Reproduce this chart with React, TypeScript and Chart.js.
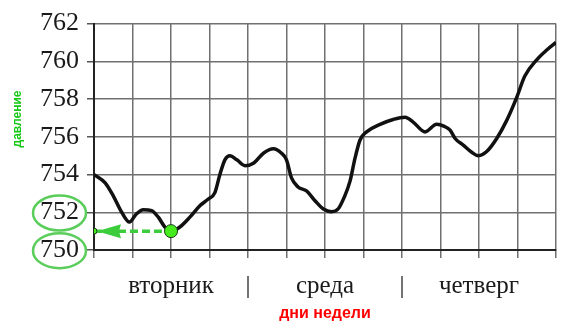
import React, { useEffect, useRef } from 'react';
import { Chart, registerables } from 'chart.js';

Chart.register(...registerables);

// Pressure curve (x in grid columns, y in mm Hg)
const curveX = [0, 0.29, 0.5, 0.72, 0.92, 1.1, 1.28, 1.5, 1.67, 1.84, 2.0, 2.23, 2.49, 2.75, 2.97, 3.14, 3.27, 3.4, 3.53, 3.71, 3.92, 4.14, 4.4, 4.66, 4.87, 5.0, 5.13, 5.3, 5.52, 5.74, 5.96, 6.17, 6.35, 6.5, 6.65, 6.78, 6.91, 7.08, 7.43, 7.77, 8.08, 8.29, 8.6, 8.9, 9.1, 9.25, 9.38, 9.59, 9.81, 9.98, 10.2, 10.46, 10.72, 10.98, 11.19, 11.5, 11.76, 12];
const curveY = [754.0, 753.56, 752.87, 752.0, 751.48, 751.91, 752.14, 752.09, 751.74, 751.22, 751.0, 751.22, 751.74, 752.35, 752.7, 753.04, 754.0, 754.78, 755.0, 754.78, 754.47, 754.6, 755.13, 755.36, 755.13, 754.78, 753.82, 753.34, 753.13, 752.61, 752.17, 752.03, 752.2, 752.8, 753.65, 754.87, 755.83, 756.26, 756.66, 756.92, 757.04, 756.78, 756.26, 756.66, 756.55, 756.35, 755.91, 755.56, 755.18, 755.0, 755.22, 755.91, 756.87, 758.09, 759.22, 760.08, 760.6, 761.0];

const yMin = 750;
const yMax = 762;
const columnCount = 12;
const dayTickPositions = [2, 4, 6, 8, 10];
const dayTickLabels = ['вторник', '|', 'среда', '|', 'четверг'];
const markerX = [0, 2];
const markerY = [751, 751];
const circledValues = [752, 750];
const yTitle = 'давление';
const xTitle = 'дни недели';

export default function App() {
  const ref = useRef<HTMLCanvasElement>(null);

  useEffect(() => {
    if (!ref.current) return;
    const serif = '"Liberation Serif", "Times New Roman", serif';
    const gridColor = '#707070';
    const green = 'rgb(60,205,60)';

    const annot = {
      id: 'annot',
      afterDatasetsDraw(chart: any) {
        const { ctx, scales } = chart;
        const x = scales.x, y = scales.y;
        const tipX = x.getPixelForValue(markerX[0]) + 3;
        const ay = y.getPixelForValue(markerY[0]);
        ctx.save();
        ctx.fillStyle = green;
        ctx.beginPath();
        ctx.moveTo(tipX, ay);
        ctx.lineTo(tipX + 24, ay - 7);
        ctx.lineTo(tipX + 22, ay);
        ctx.lineTo(tipX + 24, ay + 7);
        ctx.closePath();
        ctx.fill();
        ctx.restore();
      },
      afterDraw(chart: any) {
        const { ctx, scales, chartArea } = chart;
        const y = scales.y;
        ctx.save();
        ctx.strokeStyle = 'rgb(90,205,90)';
        ctx.lineWidth = 2.5;
        circledValues.forEach((v) => {
          const cy = y.getPixelForValue(v) + 0.7;
          ctx.beginPath();
          ctx.ellipse(chartArea.left - 34.5, cy, 26.5, 17.5, 0, 0, Math.PI * 2);
          ctx.stroke();
        });
        ctx.fillStyle = 'rgb(20,200,20)';
        ctx.font = 'bold 12px "Liberation Sans", Arial, sans-serif';
        ctx.textAlign = 'center';
        ctx.textBaseline = 'middle';
        ctx.translate(18, 119);
        ctx.rotate(-Math.PI / 2);
        ctx.fillText(yTitle, 0, 0);
        ctx.restore();

        ctx.save();
        ctx.fillStyle = '#ff0000';
        ctx.font = 'bold 16px "Liberation Sans", Arial, sans-serif';
        ctx.textAlign = 'center';
        ctx.textBaseline = 'middle';
        ctx.fillText(xTitle, (chartArea.left + chartArea.right) / 2, 314);
        ctx.restore();
      },
    };

    const chart = new Chart(ref.current, {
      type: 'line',
      data: {
        datasets: [
          {
            data: markerX.map((v, i) => ({ x: v, y: markerY[i] })),
            borderColor: green,
            borderWidth: 3.5,
            borderDash: [8, 4],
            pointRadius: [3, 6.5],
            pointBackgroundColor: 'rgb(70,235,30)',
            pointBorderColor: '#1a3a1a',
            pointBorderWidth: 1,
            fill: false,
          },
          {
            data: curveX.map((v, i) => ({ x: v, y: curveY[i] })),
            borderColor: '#111',
            borderWidth: 3.5,
            pointRadius: 0,
            cubicInterpolationMode: 'monotone',
            fill: false,
          },
        ],
      },
      options: {
        animation: false,
        responsive: false,
        devicePixelRatio: 1,
        layout: { padding: { left: 0, right: 16, top: 20, bottom: 0 } },
        plugins: { legend: { display: false }, tooltip: { enabled: false } },
        scales: {
          x: {
            type: 'linear',
            min: 0,
            max: columnCount,
            afterFit: (s: any) => { s.height = 82; },
            ticks: {
              stepSize: 1,
              autoSkip: false,
              maxRotation: 0,
              minRotation: 0,
              padding: 13,
              color: '#1a1a1a',
              font: { family: serif, size: 25 },
              callback: (v: any) => {
                const i = dayTickPositions.indexOf(Number(v));
                return i >= 0 ? dayTickLabels[i] : '';
              },
            },
            grid: { color: gridColor, lineWidth: 1.5, tickLength: 8, tickColor: gridColor },
            border: { color: '#222', width: 2 },
          },
          y: {
            type: 'linear',
            min: yMin,
            max: yMax,
            afterFit: (s: any) => { s.width = 94; },
            ticks: {
              stepSize: 1,
              padding: 8,
              color: '#1a1a1a',
              font: { family: serif, size: 26 },
              callback: (v: any) => (Number(v) % 2 === 0 ? String(v) : ''),
            },
            grid: {
              color: gridColor,
              lineWidth: 1.5,
              tickLength: 7,
              tickColor: (c: any) => (c.tick && c.tick.value % 2 === 0 ? '#555' : 'rgba(0,0,0,0)'),
            },
            border: { color: '#222', width: 2 },
          },
        },
      },
      plugins: [annot],
    } as any);

    return () => chart.destroy();
  }, []);

  return (
    <div style={{ position: 'absolute', left: 0, top: 0, width: 572, height: 332, background: '#fff' }}>
      <canvas ref={ref} width={572} height={332} style={{ display: 'block' }} />
    </div>
  );
}
